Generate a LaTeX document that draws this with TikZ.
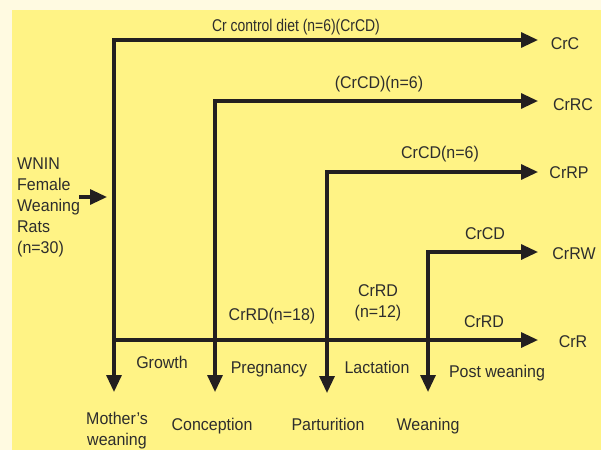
\documentclass[tikz,border=0pt]{standalone}
\usepackage{fontspec}
\setmainfont{Liberation Sans}[FakeStretch=0.94]
\newfontfamily\narrowf{Liberation Sans}[FakeStretch=0.82]
\usetikzlibrary{arrows.meta}
\definecolor{panel}{RGB}{255,243,133}
\definecolor{cream}{RGB}{255,250,225}
\definecolor{ink}{RGB}{35,31,32}
\definecolor{txt}{RGB}{45,45,45}
\begin{document}
\begin{tikzpicture}[x=1pt,y=-1pt,
  lbl/.style={inner sep=0pt,anchor=base,text=txt,font=\fontsize{17}{21}\selectfont},
  lbll/.style={lbl,anchor=base west},
  arr/.style={draw=ink,line width=3.2pt,-{Triangle[length=17pt,width=15pt]}},
  arrb/.style={draw=ink,line width=3.2pt,{Triangle[length=17pt,width=15pt]}-{Triangle[length=17pt,width=15pt]}}]
\useasboundingbox (0,0) rectangle (601,450);
\fill[cream] (0,0) rectangle (601,450);
\fill[panel] (12,10) rectangle (601,450);

% destination labels
\node[lbl] (crc) at (565,49) {CrC};
\node[lbl] (crrc) at (573,110) {CrRC};
\node[lbl] (crrp) at (569,178) {CrRP};
\node[lbl] (crrw) at (574,259) {CrRW};
\node[lbl] (crr) at (573,347) {CrR};

% stage labels
\node[lbl,align=center] (mw) at (117,445) {Mother's\\weaning};
\node[lbl] (conc) at (212,430) {Conception};
\node[lbl] (part) at (328,430) {Parturition};
\node[lbl] (wean) at (428,430) {Weaning};

% arrow end points
\coordinate (mwtip) at (114,392);
\coordinate (conctip) at (215,392);
\coordinate (parttip) at (327,393);
\coordinate (weantip) at (428,392);
\coordinate (crctip) at (538,40);
\coordinate (crrctip) at (538,101);
\coordinate (crrptip) at (538,172);
\coordinate (crrwtip) at (538,252);
\coordinate (crrtip) at (538,340);
\coordinate (jr) at (114,340);

\draw[arrb] (mwtip) |- (crctip);
\draw[arrb] (conctip) |- (crrctip);
\draw[arrb] (parttip) |- (crrptip);
\draw[arrb] (weantip) |- (crrwtip);
\draw[arr] (jr) -- (crrtip);

% input
\node[lbll,align=left] (wnin) at (17,253) {WNIN\\Female\\Weaning\\Rats\\(n=30)};
\coordinate (ins) at (79,197);
\coordinate (ine) at (107,197);
\draw[arr] (ins) -- (ine);

% diet labels
\node[lbl,font=\narrowf\fontsize{17}{21}\selectfont] (l1) at (296,31.5) {Cr control diet (n=6)(CrCD)};
\node[lbl] (l2) at (379,88) {(CrCD)(n=6)};
\node[lbl] (l3) at (440,158) {CrCD(n=6)};
\node[lbl] (l4) at (485,239) {CrCD};
\node[lbl] (l5) at (484,327) {CrRD};
\node[lbl] (l6) at (272,320) {CrRD(n=18)};
\node[lbl,align=center] (l7) at (378,317) {CrRD\\(n=12)};

% period labels
\node[lbl] (g) at (162,368) {Growth};
\node[lbl] (p) at (269,373) {Pregnancy};
\node[lbl] (la) at (377,373) {Lactation};
\node[lbl] (pw) at (497,377) {Post weaning};
\end{tikzpicture}
\end{document}
